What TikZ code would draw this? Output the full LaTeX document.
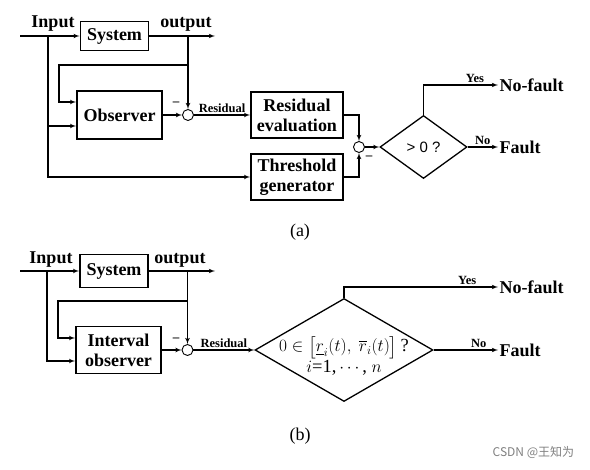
\documentclass[tikz,border=0pt]{standalone}
\usepackage{amsmath}
\usepackage{amssymb}
\usepackage{fontspec}
\setmainfont{Liberation Serif}
\newfontfamily\sansfont{Liberation Sans}
\newfontfamily\cjk{Noto Sans CJK SC}
\usetikzlibrary{arrows,positioning,calc,shapes}
\tikzstyle{block} = [draw, rectangle, line width=1.6pt, inner sep=0pt,
    align=center, font=\fontsize{18}{20}\selectfont\bfseries]
\tikzstyle{sum} = [draw, circle, line width=0.9pt, minimum size=11pt, inner sep=0pt]
\tikzstyle{decision} = [draw, diamond, line width=1.3pt, inner sep=0pt]
\tikzstyle{lbl} = [font=\fontsize{18}{20}\selectfont\bfseries, inner sep=1pt]
\tikzstyle{slbl} = [font=\fontsize{12.5}{14}\selectfont\bfseries, inner sep=1.5pt]
\tikzstyle{minus} = [font=\fontsize{13}{14}\selectfont\bfseries, inner sep=0pt]
\tikzstyle{input} = [coordinate]
\tikzstyle{output} = [coordinate]
\begin{document}
\begin{tikzpicture}[x=1pt, y=-1pt, auto, >=latex', line width=1.1pt]
    \useasboundingbox (0,0) rectangle (590,470);
    % Panel (a): we start by placing the blocks
    \node [input, name=ina] at (20,36) {};
    \node [block, minimum width=68pt, minimum height=29pt] (sysa) at (114.5,36) {System};
    \node [output, name=outa] at (215,36) {};
    \node [lbl, above] (inlbla) at (53,33) {Input};
    \node [lbl, above] (outlbla) at (186,33) {output};
    \node [block, minimum width=85pt, minimum height=48pt] (obsa) at (119.5,115) {Observer};
    \node [sum] (suma) at (188,115) {};
    \node [block, minimum width=92pt, minimum height=46pt] (eval) at (297,115) {Residual\\evaluation};
    \node [block, minimum width=92pt, minimum height=46pt] (thr) at (297,177) {Threshold\\generator};
    \node [sum] (sumb) at (359,147) {};
    \node [decision, minimum width=87pt, minimum height=63pt] (deca) at (423.5,147) {};
    \node [font=\sansfont\fontsize{15}{17}\selectfont] (testa) at (deca) {> 0 ?};
    \node [lbl, anchor=west] (nfa) at (498,85) {No-fault};
    \node [lbl, anchor=west] (fa) at (498,147) {Fault};
    \node [minus] (mina) at (176,104) {--};
    \node [minus] (minb) at (369,158) {--};
    % branch points on the input and output lines
    \coordinate (taba) at (48,36);
    \coordinate (tapa) at (188,36);
    \coordinate (fba) at (188,65);
    \coordinate (fbla) at (59,65);
    \coordinate (yesa) at (423.5,85);
    % Once the nodes are placed, connecting them is easy.
    \draw [->] (ina) -- (sysa);
    \draw [->] (sysa) -- (outa);
    \draw [->] (tapa) -- (suma);
    \draw [->] (fba) -- (fbla) |- ([yshift=13pt]obsa.west);
    \draw [->] (taba) |- ([yshift=-11pt]obsa.west);
    \draw [->] (taba) |- (thr.west);
    \draw [->] (obsa) -- (suma);
    \draw [->] (suma) -- node [slbl] {Residual} (eval);
    \draw [->] (eval) -| (sumb);
    \draw [->] (thr) -| (sumb);
    \draw [->] (sumb) -- (deca);
    \draw [->] (deca.north) -- (yesa) -- node [slbl, pos=0.69] {Yes} (nfa.west);
    \draw [->] (deca.east) -- node [slbl] {No} (fa.west);
    \node [font=\fontsize{18}{20}\selectfont] (capa) at (300,232) {(a)};
    % Panel (b)
    \node [input, name=inb] at (20,271) {};
    \node [block, minimum width=68pt, minimum height=33pt] (sysb) at (114,271) {System};
    \node [output, name=outb] at (215,271) {};
    \node [lbl, above] (inlblb) at (51,269) {Input};
    \node [lbl, above] (outlblb) at (180,269) {output};
    \node [block, minimum width=85pt, minimum height=47pt] (obsb) at (118.5,350) {Interval\\observer};
    \node [sum] (sumc) at (187.5,350) {};
    \node [decision, minimum width=178pt, minimum height=103pt] (decb) at (344,350) {};
    \node [align=center, font=\fontsize{18.5}{20}\selectfont] (testb) at ([yshift=-6pt]decb)
        {$0\in\bigl[\underline{r}_i(t),\ \overline{r}_i(t)\bigr]$\,?\\[1pt]$i$=1,$\,\cdots$, $n$};
    \node [lbl, anchor=west] (nfb) at (498,287) {No-fault};
    \node [lbl, anchor=west] (fb) at (498,350) {Fault};
    \node [minus] (minc) at (176,340) {--};
    \coordinate (tabb) at (47,271);
    \coordinate (tapb) at (187.5,271);
    \coordinate (fbb) at (187.5,301);
    \coordinate (fblb) at (58,301);
    \coordinate (yesb) at (344,287);
    \draw [->] (inb) -- (sysb);
    \draw [->] (sysb) -- (outb);
    \draw [->] (tapb) -- (sumc);
    \draw [->] (fbb) -- (fblb) |- ([yshift=12pt]obsb.west);
    \draw [->] (tabb) |- ([yshift=-11pt]obsb.west);
    \draw [->] (obsb) -- (sumc);
    \draw [->] (sumc) -- node [slbl] {Residual} (decb);
    \draw [->] (decb.north) -- (yesb) -- node [slbl, pos=0.8] {Yes} (nfb.west);
    \draw [->] (decb.east) -- node [slbl, pos=0.7] {No} (fb.west);
    \node [font=\fontsize{18}{20}\selectfont] (capb) at (300,436) {(b)};
    \node [font=\cjk\fontsize{12}{14}\selectfont, text=gray, anchor=east] (mark) at (578,452) {CSDN @王知为};
\end{tikzpicture}
\end{document}
